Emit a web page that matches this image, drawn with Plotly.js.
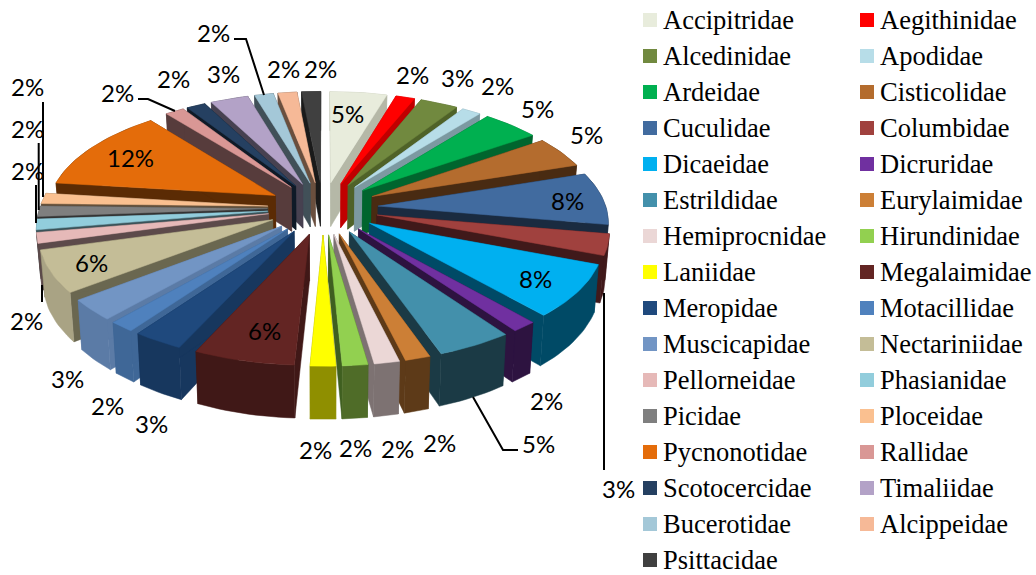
<!DOCTYPE html>
<html><head><meta charset="utf-8">
<script src="https://cdn.plot.ly/plotly-3.0.1.min.js"></script>
<style>html,body{margin:0;padding:0;background:#fff}#c{width:1036px;height:575px}</style>
</head><body><div id="c"></div>
<script>
const families = ["Accipitridae","Aegithinidae","Alcedinidae","Apodidae","Ardeidae","Cisticolidae","Cuculidae","Columbidae","Dicaeidae","Dicruridae","Estrildidae","Eurylaimidae","Hemiprocnidae","Hirundinidae","Laniidae","Megalaimidae","Meropidae","Motacillidae","Muscicapidae","Nectariniidae","Pellorneidae","Phasianidae","Picidae","Ploceidae","Pycnonotidae","Rallidae","Scotocercidae","Timaliidae","Bucerotidae","Alcippeidae","Psittacidae"];
const counts = [3,1,2,1,3,3,5,2,5,1,3,1,1,1,1,4,2,1,2,4,1,1,1,1,8,1,1,2,1,1,1];
const topColors = ["#E8ECDC","#FF0000","#71893F","#B7DDE8","#00B050","#B46C2E","#416B9F","#A0413E","#00B0F0","#7030A0","#4390AB","#CC7F36","#EBD7D6","#92D050","#FFFF00","#632523","#1F497D","#4F81BD","#7295C4","#C4BD97","#E6B9B8","#92CDDC","#7F7F7F","#FAC090","#E46C0A","#D99795","#254061","#B3A2C7","#A4C8D8","#F6B997","#404040"];
const radialColors = ["#B5B8A7","#C00000","#4F6228","#7C99A1","#00652E","#492B12","#1A2B40","#40191A","#004A66","#2D1340","#1B3A45","#5D3A18","#7D7272","#3F5F20","#8F8F00","#401817","#17375E","#3F6797","#5B7BA6","#6A6750","#5C4A4A","#3A5258","#333333","#64503A","#5B2B04","#573C3C","#0F1A27","#474150","#415058","#6A4F3E","#1A1A1A"];
const outerColors = ["#B5B8A7","#C00000","#4F6228","#7C99A1","#00652E","#492B12","#1A2B40","#40191A","#004A66","#2D1340","#1B3A45","#5D3A18","#7D7272","#4F6C28","#8F8F00","#401817","#17375E","#3F6797","#5B7BA6","#A9A384","#5C4A4A","#3A5258","#333333","#64503A","#5B2B04","#573C3C","#0F1A27","#474150","#415058","#6A4F3E","#1A1A1A"];
// pixel centres of the data labels, in slice order
const labelX = [347,412,457,497,537,586,567,618,535,546,538,439,397,355,315,264,151,107,67,91,26,27,27,27,130,117,173,223,213,283,320];
const labelY = [113,74,77,85,108,134,200,488,278,400,443,442,448,447,449,330,423,405,378,262,320,170,128,86,157,92,78,73,32,68,68];
// leader lines
const leaders = [
  [[234,39],[246,39],[264,95]],
  [[138,99],[148,99],[175,111]],
  [[43,102],[43,197]],
  [[38.7,143],[38.7,210]],
  [[36,185],[36,223]],
  [[42,285],[42,302]],
  [[473,397],[503,450],[518,450]],
  [[604,293],[604,470]]
];

const CX=323, CY=208, RX=228, RY=108, EXPL=0.243, PERSP=0.122, DEPTH=45, BOTTOM_X=0.985;
const total = counts.reduce((a,b)=>a+b,0);
function proj(dx,dy,down){ // dx,dy on unit disc: dy>0 is toward the viewer
  const f = 1/(1-PERSP*dy);
  return [CX+RX*dx*f*(down?BOTTOM_X:1), CY+RY*dy*f+(down?DEPTH*f:0)];
}
function poly(pts,color){
  return {type:'scatter',mode:'lines',x:pts.map(p=>p[0]),y:pts.map(p=>p[1]),fill:'toself',fillcolor:color,
    line:{color:color,width:0.5},hoverinfo:'skip',showlegend:false};
}
const slices=[]; let cum=0;
counts.forEach((v,i)=>{
  const a0=cum/total*2*Math.PI; cum+=v; const a1=cum/total*2*Math.PI;
  slices.push({i,a0,a1,mid:(a0+a1)/2});
});
slices.sort((a,b)=>Math.cos(b.mid)-Math.cos(a.mid));
const traces=[];
slices.forEach(s=>{
  const ox=EXPL*Math.sin(s.mid), oy=-EXPL*Math.cos(s.mid);
  const arc=[]; const n=Math.max(6,Math.ceil((s.a1-s.a0)/0.03));
  for(let k=0;k<=n;k++){const a=s.a0+(s.a1-s.a0)*k/n; arc.push([ox+Math.sin(a),oy-Math.cos(a)]);}
  const top=arc.map(p=>proj(p[0],p[1],false)), bot=arc.map(p=>proj(p[0],p[1],true));
  const apexT=proj(ox,oy,false), apexB=proj(ox,oy,true);
  traces.push(poly([apexT,top[0],bot[0],apexB,apexT],radialColors[s.i]));
  traces.push(poly([apexT,top[n],bot[n],apexB,apexT],radialColors[s.i]));
  traces.push(poly(top.concat(bot.slice().reverse()).concat([top[0]]),outerColors[s.i]));
  traces.push(poly([apexT].concat(top).concat([apexT]),topColors[s.i]));
});
leaders.forEach(l=>traces.push({type:'scatter',mode:'lines',x:l.map(p=>p[0]),y:l.map(p=>p[1]),
  line:{color:'#000',width:2},hoverinfo:'skip',showlegend:false}));

const LEG_X=[650,867], TXT_X=[661,878], LEG_Y0=20, LEG_STEP=36;
traces.push({type:'scatter',mode:'markers',
  x:families.map((f,i)=>LEG_X[i%2]),y:families.map((f,i)=>LEG_Y0+LEG_STEP*Math.floor(i/2)),
  marker:{symbol:'square',size:14,color:topColors,line:{width:0}},hoverinfo:'skip',showlegend:false});
const annotations=[];
families.forEach((f,i)=>annotations.push({x:TXT_X[i%2],y:LEG_Y0+LEG_STEP*Math.floor(i/2),xref:'x',yref:'y',text:f,showarrow:false,
  xanchor:'left',yanchor:'middle',font:{family:'Liberation Serif',size:26.5,color:'#000'}}));
counts.forEach((v,i)=>annotations.push({x:labelX[i],y:labelY[i],xref:'x',yref:'y',text:Math.round(v/total*100)+'%',showarrow:false,
  xanchor:'center',yanchor:'middle',font:{family:'Lato',size:24,color:'#000'}}));
Plotly.newPlot('c',traces,{
  width:1036,height:575,margin:{l:0,r:0,t:0,b:0},paper_bgcolor:'#fff',plot_bgcolor:'#fff',showlegend:false,
  xaxis:{range:[0,1036],visible:false,fixedrange:true},
  yaxis:{range:[575,0],visible:false,fixedrange:true},
  annotations
},{displayModeBar:false,staticPlot:true});
</script></body></html>
